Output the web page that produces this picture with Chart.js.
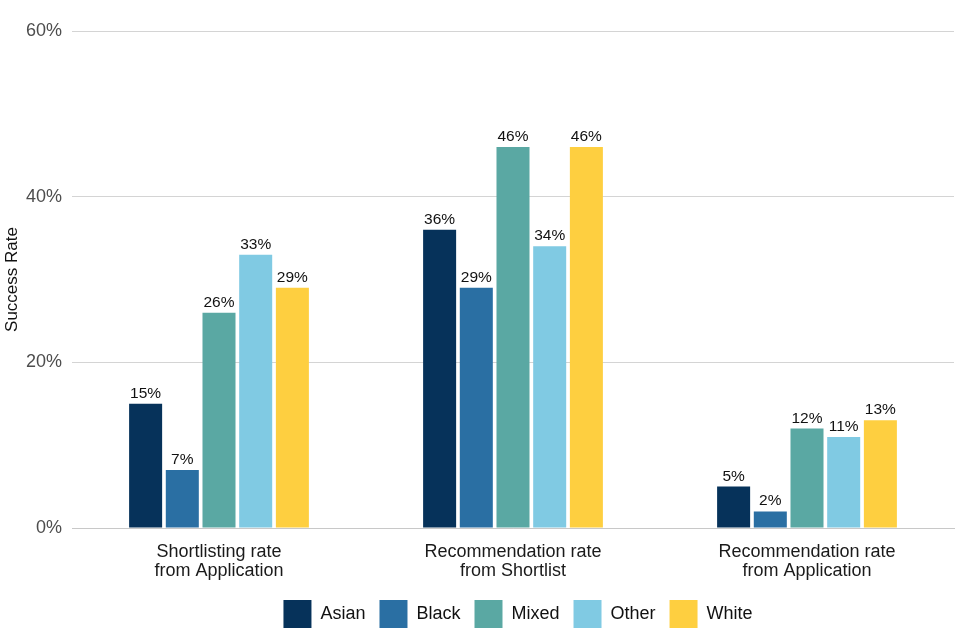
<!DOCTYPE html>
<html><head><meta charset="utf-8">
<script src="https://cdn.jsdelivr.net/npm/chart.js@4"></script>
<style>html,body{margin:0;padding:0;background:#fff}#wrap{width:960px;height:640px}</style>
</head><body><div id="wrap"><canvas id="c" width="960" height="640"></canvas></div>
<script>
const categories = [["Shortlisting rate","from Application"],["Recommendation rate","from Shortlist"],["Recommendation rate","from Application"]];
const seriesNames = ["Asian","Black","Mixed","Other","White"];
const asian = [15,36,5];
const black = [7,29,2];
const mixed = [26,46,12];
const other = [33,34,11];
const white = [29,46,13];
const yTicks = [0,20,40,60];
const colors = ["#06325a","#2a6fa3","#5aa8a3","#80cae3","#fecf40"];
const values = [asian,black,mixed,other,white];
const FONT = '"Liberation Sans", Arial, sans-serif';

const labelPlugin = {
  id:'barLabels',
  afterLayout(chart){
    if (chart.legend) { chart.legend.left += 10; }
  },
  afterDatasetsDraw(chart){
    const ctx = chart.ctx;
    ctx.save();
    ctx.font = '15.5px ' + FONT;
    ctx.fillStyle = '#111';
    ctx.textAlign = 'center';
    ctx.textBaseline = 'alphabetic';
    chart.data.datasets.forEach((ds,i)=>{
      chart.getDatasetMeta(i).data.forEach((bar,j)=>{
        ctx.fillText(ds.data[j]+'%', bar.x, bar.y-6);
      });
    });
    ctx.restore();
  }
};

new Chart(document.getElementById('c'),{
  type:'bar',
  data:{
    labels:categories,
    datasets:seriesNames.map((n,i)=>({label:n,data:values[i],backgroundColor:colors[i],barPercentage:0.9,categoryPercentage:0.624}))
  },
  options:{
    responsive:false,
    animation:false,
    devicePixelRatio:1,
    layout:{padding:{top:31,right:6,left:0,bottom:2}},
    plugins:{
      legend:{position:'bottom',fullSize:false,labels:{boxWidth:28,boxHeight:28,padding:14,color:'#111',font:{family:FONT,size:18}}},
      tooltip:{enabled:false}
    },
    scales:{
      x:{
        grid:{display:false,drawTicks:false},
        border:{color:'#c8c8c8',width:1},
        afterFit(ax){ax.height = 58;},
        ticks:{color:'#1a1a1a',padding:15,font:{family:FONT,size:18,lineHeight:1.05}}
      },
      y:{
        min:0,max:60,
        afterBuildTicks(ax){ax.ticks = yTicks.map(v=>({value:v}));},
        afterFit(ax){ax.width = 72;},
        grid:{color:'#d4d4d4',drawTicks:false},
        border:{display:false},
        ticks:{color:'#4d4d4d',padding:10,callback:v=>v+'%',font:{family:FONT,size:18}},
        title:{display:true,text:'Success Rate',color:'#111',padding:{top:2,bottom:3},font:{family:FONT,size:17}}
      }
    }
  },
  plugins:[labelPlugin]
});
</script></body></html>
